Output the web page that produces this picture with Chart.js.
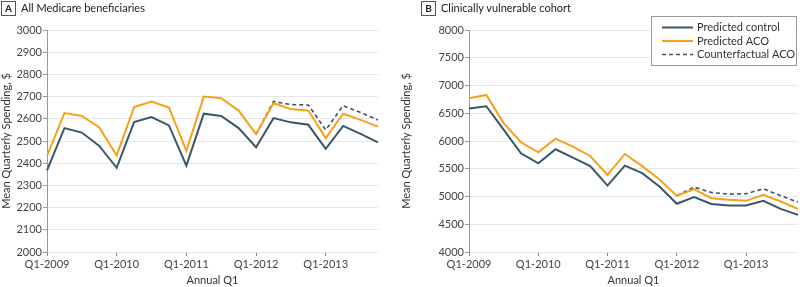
<!DOCTYPE html>
<html>
<head>
<meta charset="utf-8">
<script src="https://cdn.jsdelivr.net/npm/chart.js@4/dist/chart.umd.min.js"></script>
<style>
  html, body { margin: 0; padding: 0; background: #fff; }
  body { width: 800px; height: 287px; position: relative; overflow: hidden; font-family: Lato, "Open Sans", sans-serif; }
  .panel { position: absolute; top: 0; width: 400px; height: 287px; }
  .head { position: absolute; top: 1px; font-size: 11px; color: #222; white-space: nowrap; }
  .tag { display: inline-block; border: 1px solid #555; width: 13px; height: 13px; line-height: 13px; text-align: center; font-weight: bold; font-size: 10px; margin-right: 5px; }
</style>
</head>
<body>
<div class="panel" style="left:0"><canvas id="chartA" width="400" height="287"></canvas></div>
<div class="panel" style="left:400px"><canvas id="chartB" width="400" height="287"></canvas></div>
<div class="head" style="left:1px"><span class="tag">A</span>All Medicare beneficiaries</div>
<div class="head" style="left:421px"><span class="tag">B</span>Clinically vulnerable cohort</div>
<script>
// quarters Q1-2009 .. Q4-2013
const quarters = [
  "Q1-2009", "Q2-2009", "Q3-2009", "Q4-2009",
  "Q1-2010", "Q2-2010", "Q3-2010", "Q4-2010",
  "Q1-2011", "Q2-2011", "Q3-2011", "Q4-2011",
  "Q1-2012", "Q2-2012", "Q3-2012", "Q4-2012",
  "Q1-2013", "Q2-2013", "Q3-2013", "Q4-2013"
];

// panel A - all beneficiaries
const allControl = [2368, 2558, 2538, 2478, 2379, 2585, 2608, 2570, 2389, 2623, 2613, 2558, 2472, 2603, 2584, 2573, 2465, 2568, 2532, 2494];
const allAco = [2433, 2626, 2613, 2561, 2435, 2653, 2678, 2651, 2456, 2700, 2693, 2637, 2531, 2670, 2644, 2637, 2513, 2623, 2595, 2565];
const allCounterfactual = [null, null, null, null, null, null, null, null, null, null, null, null, 2531, 2678, 2664, 2662, 2550, 2659, 2628, 2595];

// panel B - clinically vulnerable
const vulnControl = [6585, 6626, 6205, 5779, 5599, 5851, 5700, 5550, 5197, 5556, 5420, 5180, 4870, 4988, 4864, 4840, 4840, 4922, 4776, 4668];
const vulnAco = [6770, 6830, 6322, 5977, 5797, 6042, 5898, 5730, 5388, 5766, 5548, 5306, 5014, 5132, 4970, 4942, 4922, 5030, 4910, 4776];
const vulnCounterfactual = [null, null, null, null, null, null, null, null, null, null, null, null, 5014, 5169, 5072, 5043, 5050, 5139, 5013, 4899];

const ticksA = [2000, 2100, 2200, 2300, 2400, 2500, 2600, 2700, 2800, 2900, 3000];
const ticksB = [4000, 4500, 5000, 5500, 6000, 6500, 7000, 7500, 8000];

const seriesNames = ["Predicted control", "Predicted ACO", "Counterfactual ACO"];
const navy = "#3c5668";
const orange = "#f7a11a";
const font = "Lato, 'Open Sans', sans-serif";

Chart.defaults.font.family = font;
Chart.defaults.color = "#444";

function makeSets(ctrl, aco, cf) {
  return [
    { label: seriesNames[0], data: ctrl, borderColor: navy, borderWidth: 2 },
    { label: seriesNames[1], data: aco, borderColor: orange, borderWidth: 2 },
    { label: seriesNames[2], data: cf, borderColor: navy, borderWidth: 1.6, borderDash: [4, 3] }
  ];
}

// legend box drawn on canvas for panel B
const boxLegend = {
  id: "boxLegend",
  afterDraw(chart, args, opts) {
    if (!opts.show) return;
    const c = chart.ctx;
    c.save();
    c.strokeStyle = "#999";
    c.lineWidth = 1;
    c.fillStyle = "#fff";
    c.fillRect(251.5, 16.5, 145, 49);
    c.strokeRect(251.5, 16.5, 145, 49);
    c.font = "11px " + font;
    c.textBaseline = "middle";
    chart.data.datasets.forEach((ds, i) => {
      const y = 27.5 + i * 13.5;
      c.strokeStyle = ds.borderColor;
      c.lineWidth = i === 2 ? 1.6 : 2;
      c.setLineDash(ds.borderDash || []);
      c.beginPath();
      c.moveTo(262, y);
      c.lineTo(293, y);
      c.stroke();
      c.setLineDash([]);
      c.fillStyle = "#333";
      c.fillText(ds.label, 297, y);
    });
    c.restore();
  }
};

function makeChart(id, sets, tickVals, leftW, padRight, showLegend) {
  return new Chart(document.getElementById(id), {
    type: "line",
    data: { labels: quarters, datasets: sets },
    options: {
      responsive: false,
      animation: false,
      layout: { padding: { top: 30, right: padRight, left: 0, bottom: 0 } },
      elements: { point: { radius: 0 }, line: { tension: 0 } },
      plugins: { legend: { display: false }, tooltip: { enabled: false }, boxLegend: { show: showLegend } },
      scales: {
        x: {
          offset: false,
          border: { display: false },
          grid: {
            drawOnChartArea: false,
            drawTicks: true,
            tickLength: 4,
            color: (ctx) => (ctx.index % 4 === 0 ? "#888" : "rgba(0,0,0,0)")
          },
          ticks: {
            autoSkip: false,
            maxRotation: 0,
            padding: 2,
            font: { size: 11 },
            color: "#444",
            callback: (v, i) => (i % 4 === 0 ? quarters[i] : "")
          },
          title: { display: true, text: "Annual Q1", font: { size: 11 }, color: "#333", padding: { top: 3, bottom: 0 } },
          afterFit: (s) => { s.height = 35; }
        },
        y: {
          min: tickVals[0],
          max: tickVals[tickVals.length - 1],
          afterBuildTicks: (s) => { s.ticks = tickVals.map((v) => ({ value: v })); },
          border: { display: true, color: "#999", width: 1 },
          grid: { color: "#e6e6e6", lineWidth: 1, tickLength: 4, tickColor: "#999" },
          ticks: { font: { size: 11 }, color: "#444", padding: 1, callback: (v) => String(v) },
          title: { display: true, text: "Mean Quarterly Spending, $", font: { size: 11 }, color: "#333", padding: { top: 0, bottom: 2 } },
          afterFit: (s) => { s.width = leftW; }
        }
      }
    },
    plugins: [boxLegend]
  });
}

makeChart("chartA", makeSets(allControl, allAco, allCounterfactual), ticksA, 47, 22, false);
makeChart("chartB", makeSets(vulnControl, vulnAco, vulnCounterfactual), ticksB, 69, 1, true);
</script>
</body>
</html>
